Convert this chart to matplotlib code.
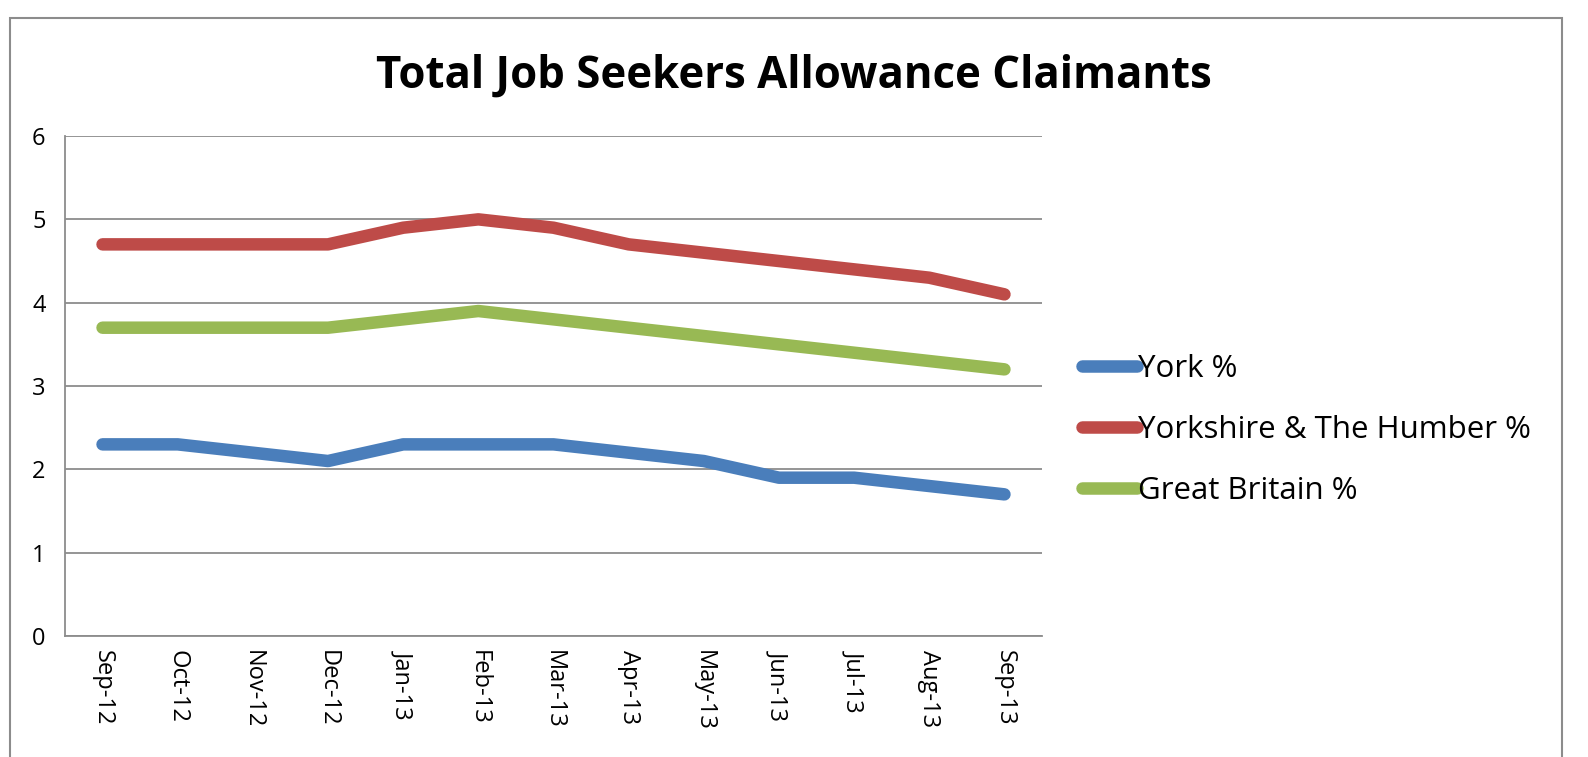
import matplotlib
matplotlib.use("Agg")
import matplotlib.pyplot as plt
from matplotlib.patches import Rectangle

months = ["Sep-12", "Oct-12", "Nov-12", "Dec-12", "Jan-13", "Feb-13", "Mar-13",
          "Apr-13", "May-13", "Jun-13", "Jul-13", "Aug-13", "Sep-13"]
york = [2.3, 2.3, 2.2, 2.1, 2.3, 2.3, 2.3, 2.2, 2.1, 1.9, 1.9, 1.8, 1.7]
yorkshire = [4.7, 4.7, 4.7, 4.7, 4.9, 5.0, 4.9, 4.7, 4.6, 4.5, 4.4, 4.3, 4.1]
gb = [3.7, 3.7, 3.7, 3.7, 3.8, 3.9, 3.8, 3.7, 3.6, 3.5, 3.4, 3.3, 3.2]
series_names = ["York %", "Yorkshire & The Humber %", "Great Britain %"]

plt.rcParams['font.family'] = ['Open Sans', 'DejaVu Sans']

fig = plt.figure(figsize=(15.88, 7.57), dpi=100)
ax = fig.add_axes([0.0409, 0.1598, 0.6153, 0.6605])

# outer chart frame
fig.patches.append(Rectangle((0.0063, -0.02), 0.9775, 0.9962, transform=fig.transFigure,
                             fill=False, edgecolor="#8c8c8c", linewidth=1.5))

x = list(range(len(months)))
lw = 9
ax.plot(x, york, color="#4A7EBB", lw=lw, solid_capstyle="round", solid_joinstyle="round", label=series_names[0])
ax.plot(x, yorkshire, color="#BE4B48", lw=lw, solid_capstyle="round", solid_joinstyle="round", label=series_names[1])
ax.plot(x, gb, color="#98B954", lw=lw, solid_capstyle="round", solid_joinstyle="round", label=series_names[2])

ax.set_xlim(-0.5, len(months) - 0.5)
ax.set_ylim(0, 6)
ax.set_yticks(range(7))
ax.set_xticks(x)
ax.set_xticklabels(months, rotation=270, fontsize=17)
ax.tick_params(axis="y", labelsize=17, length=0, pad=14)
ax.tick_params(axis="x", length=0, pad=10)
ax.grid(axis="y", color="#8c8c8c", lw=1.3)
ax.set_axisbelow(True)
for s in ["top", "right"]:
    ax.spines[s].set_visible(False)
for s in ["left", "bottom"]:
    ax.spines[s].set_color("#8c8c8c")
    ax.spines[s].set_linewidth(1.3)

fig.text(0.5, 0.9, "Total Job Seekers Allowance Claimants", ha="center", va="center",
         fontsize=31.5, fontweight="bold")

leg = ax.legend(loc="center left", bbox_to_anchor=(1.041, 0.412), frameon=False,
                fontsize=22.5, handlelength=1.75, handletextpad=0.05, labelspacing=1.0,
                borderpad=0, borderaxespad=0)

fig.savefig("out.png", dpi=100)
